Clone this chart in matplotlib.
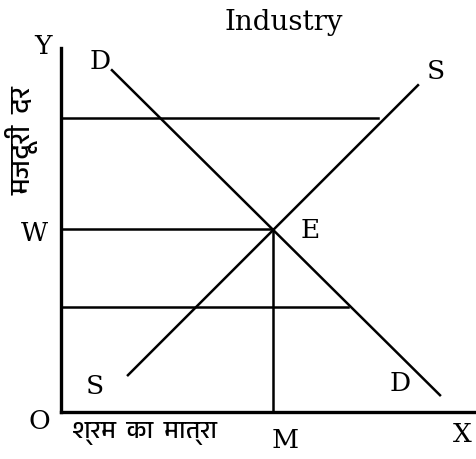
import matplotlib
matplotlib.use("Agg")
import matplotlib.pyplot as plt
from matplotlib import font_manager

# curve end points (x, y) in chart units
demand_x = [5.1, 37.9]
demand_y = [34.2, 1.7]
supply_x = [6.7, 35.7]
supply_y = [3.7, 32.7]
eq_x, eq_y = 21.2, 18.3
high_wage, high_wage_end = 29.4, 31.7
low_wage, low_wage_end = 10.5, 28.7

# find a font that can show Devanagari
deva = [f.name for f in font_manager.fontManager.ttflist
        if "Devanagari" in f.name or "Lohit" in f.name or "Mangal" in f.name]
hindi_fonts = deva[:1] + ["DejaVu Sans"]
serif = ["DejaVu Serif"]

fig = plt.figure(figsize=(4.76, 4.59), dpi=100)
ax = fig.add_axes([0.128, 0.102, 0.872, 0.793])
ax.set_xlim(0, 41.5)
ax.set_ylim(0, 36.4)
ax.axis("off")

lw = 1.8
ax.plot([0, 0], [0, 36.4], color="black", lw=2.4, clip_on=False)
ax.plot([0, 41.5], [0, 0], color="black", lw=2.4, clip_on=False)
ax.plot(demand_x, demand_y, color="black", lw=lw)
ax.plot(supply_x, supply_y, color="black", lw=lw)
ax.plot([0, high_wage_end], [high_wage, high_wage], color="black", lw=lw)
ax.plot([0, low_wage_end], [low_wage, low_wage], color="black", lw=lw)
ax.plot([0, eq_x], [eq_y, eq_y], color="black", lw=lw)
ax.plot([eq_x, eq_x], [0, eq_y], color="black", lw=lw)

fs = 19
labels = [
    (-1.8, 36.6, "Y"), (3.9, 35.1, "D"), (37.5, 34.1, "S"),
    (-2.6, 17.9, "W"), (24.9, 18.2, "E"), (3.4, 2.6, "S"),
    (33.9, 2.9, "D"), (-2.2, -0.9, "O"), (40.1, -2.2, "X"),
    (22.4, -2.8, "M"),
]
for x, y, s in labels:
    ax.text(x, y, s, fontsize=fs, family=serif, ha="center", va="center",
            clip_on=False)
ax.text(22.25, 39.0, "Industry", fontsize=20, family=serif, ha="center",
        va="center", clip_on=False)

ax.text(1.1, -2.1, "श्रम  का  मात्रा", fontsize=18, family=hindi_fonts,
        ha="left", va="center", clip_on=False)
ax.text(-3.9, 27.2, "मजदूरी  दर", fontsize=20, family=hindi_fonts, rotation=90,
        ha="center", va="center", clip_on=False)

fig.savefig("out.png", dpi=100)
